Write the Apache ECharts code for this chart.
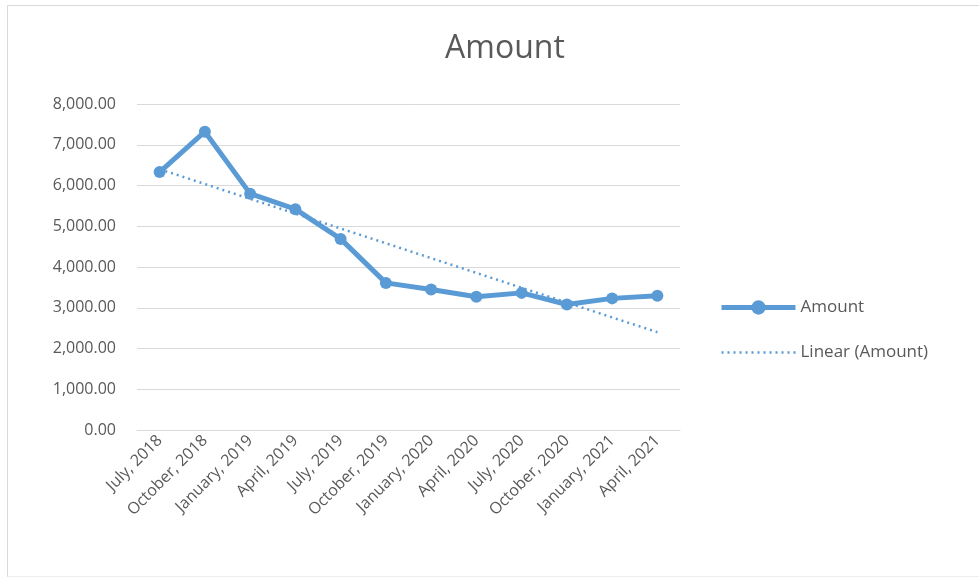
<!DOCTYPE html>
<html>
<head>
<meta charset="utf-8">
<script src="https://cdn.jsdelivr.net/npm/echarts@6/dist/echarts.min.js"></script>
<style>
  html, body { margin: 0; padding: 0; background: #fff; }
  #frame { position: absolute; left: 7px; top: 5px; width: 980px; height: 570px;
           border-left: 1px solid #d9d9d9; border-top: 1px solid #d9d9d9; border-bottom: 1px solid #eeeeee; }
  #chart { position: absolute; left: 0; top: 0; width: 979px; height: 580px; }
</style>
</head>
<body>
<div id="frame"></div>
<div id="chart"></div>
<script>
// quarters on the x axis
const categories = ['July, 2018', 'October, 2018', 'January, 2019', 'April, 2019', 'July, 2019',
  'October, 2019', 'January, 2020', 'April, 2020', 'July, 2020', 'October, 2020',
  'January, 2021', 'April, 2021']
// values
const amount = [6330, 7320, 5800, 5420, 4690, 3610, 3450, 3270, 3365, 3080, 3230, 3295]
// linear trendline end points (first and last category)
const trendEnds = [6400, 2400]

const yTicks = { min: 0, max: 8000, interval: 1000 }

const chart = echarts.init(document.getElementById('chart'))
const fmt = v => v.toLocaleString('en-US', { minimumFractionDigits: 2, maximumFractionDigits: 2 })
const font = '"Open Sans", "Noto Sans", sans-serif'
const grey = '#595959'
const blue = '#5b9bd5'

const option = {
  animation: false,
  title: {
    text: 'Amount',
    left: 500, top: 28, textAlign: 'center',
    textStyle: { fontFamily: font, fontSize: 32, fontWeight: 'normal', color: grey }
  },
  legend: {
    orient: 'vertical',
    left: 714, top: 294,
    itemWidth: 74, itemHeight: 18, itemGap: 28,
    textStyle: { fontFamily: font, fontSize: 17, color: grey },
    data: [
      { name: 'Amount', lineStyle: { width: 5 } },
      { name: 'Linear (Amount)', itemStyle: { opacity: 0 }, lineStyle: { width: 2.5, type: [2, 4], opacity: 1 } }
    ]
  },
  grid: { left: 137, top: 104, width: 543, height: 326 },
  xAxis: {
    type: 'category',
    data: categories,
    boundaryGap: true,
    axisLine: { lineStyle: { color: '#d9d9d9', width: 1 } },
    axisTick: { show: false },
    axisLabel: { rotate: 45, interval: 0, fontFamily: font, fontSize: 16, color: grey, margin: 8 }
  },
  yAxis: {
    type: 'value',
    min: yTicks.min, max: yTicks.max, interval: yTicks.interval,
    axisLine: { show: false },
    axisTick: { show: false },
    splitLine: { lineStyle: { color: '#d9d9d9', width: 1 } },
    axisLabel: { formatter: fmt, fontFamily: font, fontSize: 16, color: grey, margin: 21 }
  },
  series: [
    {
      name: 'Amount',
      type: 'line',
      data: amount,
      symbol: 'circle',
      symbolSize: 12,
      itemStyle: { color: blue },
      lineStyle: { color: blue, width: 5 }
    },
    {
      name: 'Linear (Amount)',
      type: 'line',
      data: [[0, trendEnds[0]], [categories.length - 1, trendEnds[1]]],
      symbol: 'none',
      itemStyle: { color: blue },
      lineStyle: { color: blue, width: 2.5, type: [2, 4] },
      z: 3
    }
  ]
}
chart.setOption(option)
</script>
</body>
</html>
